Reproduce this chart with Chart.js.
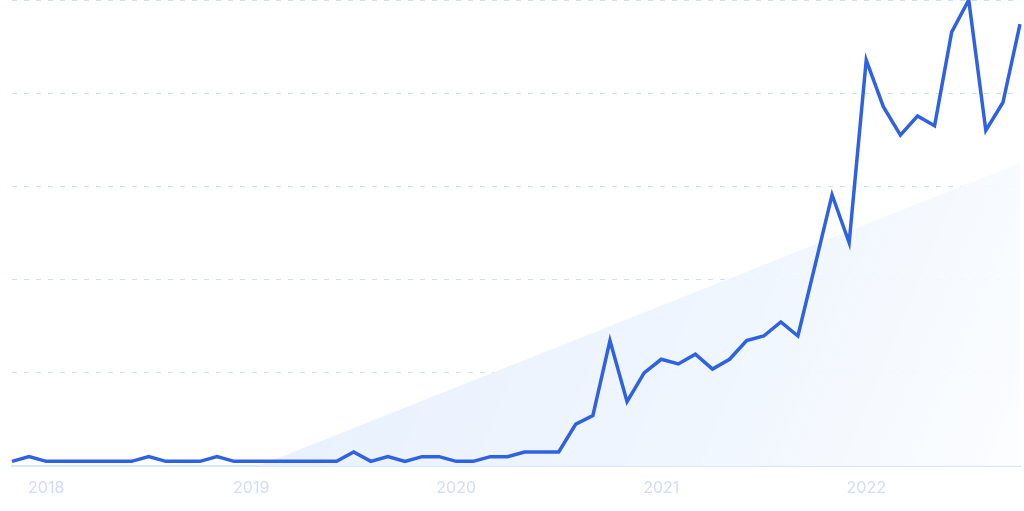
<!DOCTYPE html>
<html>
<head>
<meta charset="utf-8">
<script src="https://cdn.jsdelivr.net/npm/chart.js@4/dist/chart.umd.min.js"></script>
<style>
  html, body { margin: 0; padding: 0; background: #ffffff; }
  #wrap { width: 1024px; height: 511px; position: relative; }
</style>
</head>
<body>
<div id="wrap"><canvas id="trend-chart"></canvas></div>
<script>
// monthly points, Nov 2017 .. Oct 2022
var months = [
  '2017-11', '2017-12',
  '2018-01', '2018-02', '2018-03', '2018-04', '2018-05', '2018-06', '2018-07', '2018-08', '2018-09', '2018-10', '2018-11', '2018-12',
  '2019-01', '2019-02', '2019-03', '2019-04', '2019-05', '2019-06', '2019-07', '2019-08', '2019-09', '2019-10', '2019-11', '2019-12',
  '2020-01', '2020-02', '2020-03', '2020-04', '2020-05', '2020-06', '2020-07', '2020-08', '2020-09', '2020-10', '2020-11', '2020-12',
  '2021-01', '2021-02', '2021-03', '2021-04', '2021-05', '2021-06', '2021-07', '2021-08', '2021-09', '2021-10', '2021-11', '2021-12',
  '2022-01', '2022-02', '2022-03', '2022-04', '2022-05', '2022-06', '2022-07', '2022-08', '2022-09', '2022-10'
];

var interest = [
  1, 2, 1, 1, 1, 1, 1, 1, 2, 1,
  1, 1, 2, 1, 1, 1, 1, 1, 1, 1,
  3, 1, 2, 1, 2, 2, 1, 1, 2, 2,
  3, 3, 3, 9, 10.8, 26.9, 13.8, 20, 22.9, 21.9,
  24, 20.8, 22.9, 26.9, 27.9, 30.9, 27.9, 43, 58.2, 47.9,
  87.1, 77.1, 71, 75.1, 73, 93.1, 100, 72, 78, 94.8
];

// trend shading: only its two end values, the line between them is drawn by Chart.js
var trendStart = -21;
var trendEnd = 65;
var trend = months.map(function (m, i) {
  if (i === 0) return trendStart;
  if (i === months.length - 1) return trendEnd;
  return null;
});

var yTicks = [0, 20, 40, 60, 80, 100];

function trendFill(context) {
  var chart = context.chart;
  var area = chart.chartArea;
  if (!area) return 'rgba(232, 241, 253, 0.9)';
  var g = chart.ctx.createLinearGradient(area.left + 250, area.top + 150, area.right, area.bottom);
  g.addColorStop(0, 'rgba(229, 239, 253, 0.95)');
  g.addColorStop(0.6, 'rgba(238, 245, 254, 0.92)');
  g.addColorStop(1, 'rgba(251, 253, 255, 0.9)');
  return g;
}

new Chart(document.getElementById('trend-chart'), {
  type: 'line',
  data: {
    labels: months,
    datasets: [{
      label: 'interest',
      data: interest,
      borderColor: '#2e62e2',
      borderWidth: 3.5,
      pointRadius: 0,
      tension: 0,
      fill: false,
      order: 1
    }, {
      label: 'trend',
      data: trend,
      spanGaps: true,
      borderWidth: 0,
      borderColor: 'rgba(0,0,0,0)',
      backgroundColor: trendFill,
      pointRadius: 0,
      fill: 'origin',
      order: 2
    }]
  },
  options: {
    responsive: true,
    maintainAspectRatio: false,
    animation: false,
    layout: { padding: { left: 12, right: 4, top: 0, bottom: 0 } },
    plugins: {
      legend: { display: false },
      tooltip: { enabled: false }
    },
    scales: {
      x: {
        grid: { display: false, drawTicks: false },
        border: { display: true, color: '#d9e7fb', width: 2 },
        afterFit: function (scale) {
          scale.paddingLeft = 0;
          scale.paddingRight = 0;
          scale.height = 45;
        },
        ticks: {
          autoSkip: false,
          maxRotation: 0,
          padding: 13,
          color: '#d3dcf7',
          font: { family: 'Inter', size: 16 },
          callback: function (value, index) {
            var m = months[index];
            return m.slice(5) === '01' ? m.slice(0, 4) : '';
          }
        }
      },
      y: {
        min: yTicks[0],
        max: yTicks[yTicks.length - 1],
        afterBuildTicks: function (axis) {
          axis.ticks = yTicks.map(function (v) { return { value: v }; });
        },
        afterFit: function (scale) {
          scale.width = 0;
        },
        grid: {
          drawTicks: false,
          color: function (ctx) {
            return ctx.tick && ctx.tick.value === 0 ? 'rgba(0,0,0,0)' : '#c9e2fb';
          },
          lineWidth: 1
        },
        border: { display: false, dash: [5, 7] },
        ticks: { display: false }
      }
    }
  }
});
</script>
</body>
</html>
